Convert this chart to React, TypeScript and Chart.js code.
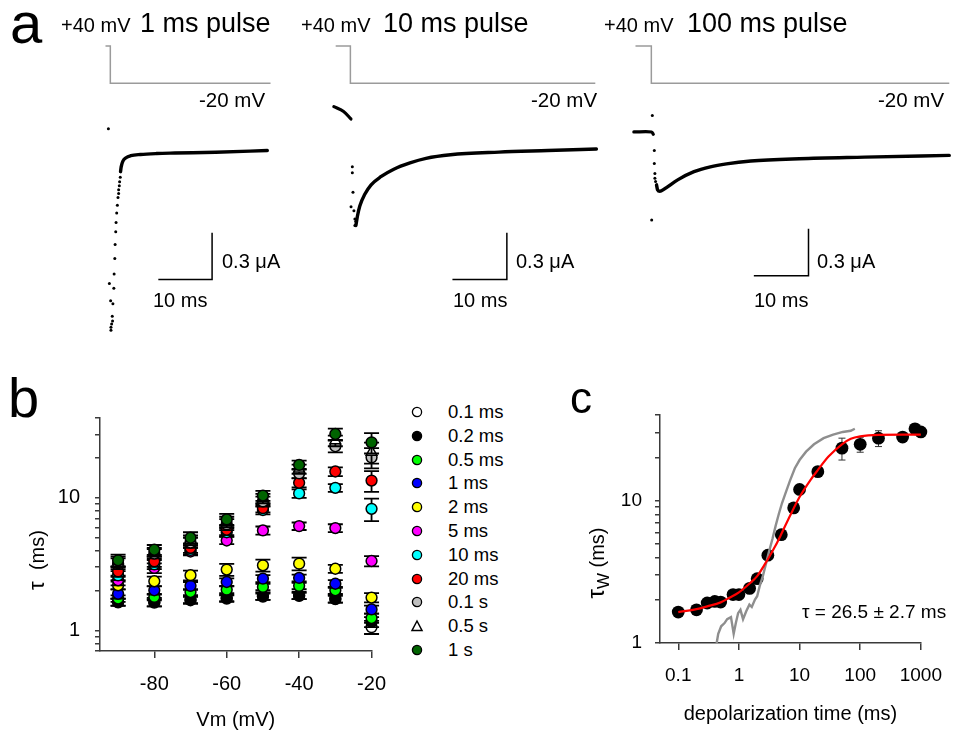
import React, { useEffect, useRef } from "react";
import { Chart, registerables } from "chart.js";

Chart.register(...registerables);

const FONT = '"Liberation Sans", Arial, Helvetica, sans-serif';

// ================= Panel a data (time ms, current µA, command mV) =================
const commandMv = [40, 40, -20, -20];
const step1Ms = [-0.9, 0, 0, 29.8];
const step2Ms = [-2.7, 0, 0, 45];
const step3Ms = [-2.9, 0, 0, 54.5];

const trace1Dots: [number, number][] = [
  [-0.36, 0.14],
  [0.12, -1.15], [0.12, -1.13], [0.24, -1.11], [0.42, -1.09], [0.36, -1.06],
  [0.06, -0.96], [0.48, -0.98], [-0.18, -0.85], [0.65, -0.88],
  [0.71, -0.79], [0.83, -0.69], [0.89, -0.6], [1.01, -0.52], [1.07, -0.46],
  [1.19, -0.4], [1.31, -0.35], [1.43, -0.3], [1.55, -0.275], [1.55, -0.25],
  [1.67, -0.225], [1.73, -0.2], [1.85, -0.17],
];
const trace1Curve: [number, number][] = [
  [1.9, -0.135], [2.02, -0.104], [2.32, -0.069], [2.92, -0.046], [3.81, -0.033],
  [5.6, -0.025], [8.6, -0.019], [12, -0.016], [19.6, -0.011], [29.2, 0],
];
const trace1Pre: [number, number][] = [];

const trace2Pre: [number, number][] = [[-3.04, 0.281], [-1.25, 0.25], [0.1, 0.202]];
const trace2Dots: [number, number][] = [
  [0.36, -0.104], [0.36, -0.142], [0.48, -0.267], [0.12, -0.36], [0.65, -0.385],
  [0.83, -0.4375], [1.0, -0.452], [0.83, -0.479],
];
const trace2Curve: [number, number][] = [
  [1.01, -0.479], [1.31, -0.417], [1.73, -0.354], [2.62, -0.281], [3.81, -0.219],
  [5.6, -0.167], [7.98, -0.119], [10.95, -0.079], [13.9, -0.05], [18.4, -0.027],
  [27.3, -0.01], [36.3, 0], [45.2, 0.01],
];

const trace3Pre: [number, number][] = [[-3.2, 0.119], [0.06, 0.119], [0.36, 0.104]];
const trace3Dots: [number, number][] = [
  [0.18, 0.225], [0.54, 0], [0.54, -0.083], [0.65, -0.146], [0.65, -0.177],
  [0.77, -0.198], [0.06, -0.444],
];
const trace3Curve: [number, number][] = [
  [0.95, -0.219], [1.13, -0.25], [1.55, -0.26], [2.44, -0.244], [4.82, -0.1875],
  [7.8, -0.135], [10.8, -0.104], [13.75, -0.085], [18.2, -0.067], [27.1, -0.052],
  [39, -0.042], [54.5, -0.031],
];

const scaleBarMs = 10;
const scaleBarUA = 0.3;
const scaleBar1: [number, number] = [8.93, -0.825];
const scaleBar2: [number, number] = [18.75, -0.825];
const scaleBar3: [number, number] = [18.75, -0.8];
const pulseTitles = ["1 ms pulse", "10 ms pulse", "100 ms pulse"];

// ================= Panel b data =================
const vmSteps = [-90, -80, -70, -60, -50, -40, -30, -20];
const vmTicks = [-80, -60, -40, -20];
const tauTicks = [0.7, 0.8, 0.9, 1, 2, 3, 4, 5, 6, 7, 8, 9, 10, 20, 30, 40];
const pulseLabels = ["0.1 ms", "0.2 ms", "0.5 ms", "1 ms", "2 ms", "5 ms", "10 ms", "20 ms", "0.1 s", "0.5 s", "1 s"];

const tau_0_1ms = [1.63, 1.62, 1.69, 1.74, 1.8, 1.82, 1.72, 1.06];
const tau_0_2ms = [1.64, 1.64, 1.71, 1.76, 1.82, 1.84, 1.74, 1.16];
const tau_0_5ms = [1.74, 1.79, 1.95, 2.03, 2.13, 2.17, 2.01, 1.24];
const tau_1ms = [1.89, 2.01, 2.17, 2.32, 2.46, 2.49, 2.25, 1.44];
const tau_2ms = [2.19, 2.35, 2.61, 2.88, 3.1, 3.19, 2.92, 1.77];
const tau_5ms = [2.39, 2.96, 3.94, 4.77, 5.68, 6.12, 5.92, 3.34];
const tau_10ms = [2.6, 3.15, 4.05, 5.5, 8.1, 10.8, 11.9, 8.27];
const tau_20ms = [2.79, 3.32, 4.19, 5.74, 8.37, 13.0, 15.8, 13.5];
const tau_0_1s = [3.2, 3.8, 4.6, 6.3, 9.4, 15.3, 24.5, 20.2];
const tau_0_5s = [3.3, 3.9, 4.8, 6.6, 9.9, 16.5, 27.0, 22.1];
const tau_1s = [3.38, 4.06, 5.0, 6.87, 10.4, 17.7, 30.3, 26.2];

const err_0_1ms = [0.1, 0.1, 0.1, 0.1, 0.1, 0.1, 0.1, 0.12];
const err_0_2ms = [0.1, 0.12, 0.1, 0.1, 0.12, 0.12, 0.12, 0.1];
const err_0_5ms = [0.1, 0.1, 0.1, 0.12, 0.12, 0.12, 0.12, 0.1];
const err_1ms = [0.15, 0.15, 0.15, 0.15, 0.15, 0.15, 0.15, 0.1];
const err_2ms = [0.15, 0.2, 0.22, 0.3, 0.32, 0.35, 0.2, 0.14];
const err_5ms = [0.2, 0.25, 0.25, 0.3, 0.4, 0.4, 0.4, 0.3];
const err_10ms = [0.2, 0.25, 0.3, 0.4, 0.6, 0.8, 0.8, 1.6];
const err_20ms = [0.25, 0.3, 0.35, 0.5, 0.6, 1.0, 1.2, 2.4];
const err_0_1s = [0.3, 0.3, 0.4, 0.6, 0.8, 1.2, 2.5, 3.5];
const err_0_5s = [0.3, 0.3, 0.4, 0.6, 0.8, 1.3, 2.5, 4.0];
const err_1s = [0.35, 0.35, 0.5, 0.7, 0.9, 1.4, 3.0, 4.6];

const tauSeries = [tau_0_1ms, tau_0_2ms, tau_0_5ms, tau_1ms, tau_2ms, tau_5ms, tau_10ms, tau_20ms, tau_0_1s, tau_0_5s, tau_1s];
const errSeries = [err_0_1ms, err_0_2ms, err_0_5ms, err_1ms, err_2ms, err_5ms, err_10ms, err_20ms, err_0_1s, err_0_5s, err_1s];
const pulseColors = ["#ffffff", "#000000", "#00ff00", "#0000ff", "#ffff00", "#ff00ff", "#00ffff", "#ff0000", "#c0c0c0", "#ffffff", "#006400"];
const pulseShapes = ["circle", "circle", "circle", "circle", "circle", "circle", "circle", "circle", "circle", "triangle", "circle"];

// ================= Panel c data =================
const depolTime = [0.1, 0.2, 0.3, 0.4, 0.5, 0.8, 1, 1.5, 2, 3, 5, 8, 10, 20, 50, 100, 200, 500, 800, 1000];
const tauW = [1.65, 1.71, 1.91, 1.96, 1.94, 2.19, 2.19, 2.42, 2.83, 4.14, 5.77, 8.9, 12.0, 16.0, 23.4, 24.9, 27.5, 28.0, 32.0, 30.4];
const tauWErr = [0.05, 0.05, 0.05, 0.05, 0.05, 0.08, 0.08, 0.1, 0.15, 0.2, 0.3, 0.5, 0.6, 0.8, 4.1, 3.0, 3.5, 1.9, 2.5, 1.0];
const fitTime = [0.1, 0.2, 0.3, 0.5, 0.7, 1, 1.5, 2, 3, 4, 5, 7, 10, 15, 20, 30, 50, 70, 100, 200, 500, 1000];
const fitTau = [1.65, 1.73, 1.81, 1.93, 2.08, 2.27, 2.62, 2.95, 3.88, 4.82, 5.83, 7.87, 10.6, 13.9, 16.4, 20.4, 24.9, 27.2, 28.3, 29.0, 29.1, 29.1];
const grayTime = [0.43, 0.456, 0.51, 0.58, 0.64, 0.74, 0.82, 0.89, 0.97, 1.06, 1.17, 1.32, 1.49, 1.63, 1.84, 2.0, 2.2, 2.48, 2.81, 3.16, 3.57, 4.04, 4.56, 5.14, 5.95, 6.98, 8.36, 10, 12.8, 17.3, 24.9, 35.8, 51.5, 69.8, 81.5];
const grayTau = [1.0, 1.16, 1.31, 1.38, 1.47, 1.52, 1.16, 1.38, 1.62, 1.71, 1.47, 1.67, 1.86, 1.79, 2.02, 2.13, 2.51, 2.95, 3.63, 4.44, 5.38, 6.68, 8.09, 9.63, 11.5, 13.9, 16.9, 19.3, 22.1, 24.9, 27.5, 29.1, 30.4, 31.0, 32.0];
const cXTicks = [0.1, 1, 10, 100, 1000];
const cYTicks = [1, 2, 3, 4, 5, 6, 7, 8, 9, 10, 20, 30, 40];
const fitText = "τ = 26.5 ± 2.7 ms";

// ================= helpers =================
const toXY = (pts: [number, number][]) => pts.map(([x, y]) => ({ x, y }));
const zipXY = (xs: number[], ys: number[]) => xs.map((x, i) => ({ x, y: ys[i] }));

const AXIS = "#3a3a3a";

const errorBarPlugin = {
  id: "errorBars",
  beforeDatasetDraw(chart: any, args: any) {
    const ds: any = chart.data.datasets[args.index];
    if (!ds.errors) return;
    const meta = args.meta;
    const xs = chart.scales[meta.xAxisID];
    const ys = chart.scales[meta.yAxisID];
    const ctx = chart.ctx;
    ctx.save();
    ctx.strokeStyle = ds.errorColor || "#000";
    ctx.lineWidth = ds.errorWidth || 1;
    const cap = ds.capHalf || 4;
    ds.data.forEach((p: any, i: number) => {
      const e = ds.errors[i];
      if (!e) return;
      const x = xs.getPixelForValue(p.x);
      const yTop = ys.getPixelForValue(p.y + e);
      const yBot = ys.getPixelForValue(Math.max(p.y - e, 1e-3));
      ctx.beginPath();
      ctx.moveTo(x, yTop);
      ctx.lineTo(x, yBot);
      ctx.moveTo(x - cap, yTop);
      ctx.lineTo(x + cap, yTop);
      ctx.moveTo(x - cap, yBot);
      ctx.lineTo(x + cap, yBot);
      ctx.stroke();
    });
    ctx.restore();
  },
};

function ChartBox({ left, top, width, height, make }: { left: number; top: number; width: number; height: number; make: () => any }) {
  const ref = useRef<HTMLCanvasElement>(null);
  useEffect(() => {
    const chart = new Chart(ref.current as HTMLCanvasElement, make());
    return () => chart.destroy();
  }, []);
  return (
    <canvas
      ref={ref}
      width={width}
      height={height}
      style={{ position: "absolute", left, top, width, height }}
    />
  );
}

// ---- layout constants for panel a ----
const PX_PER_MS = 5.6;
const PX_PER_UA = 160;
const ZERO_UA_PX = 150;
const PX_PER_MV = 38 / 60;
const PLUS40_PX = 43;
const TRACE_H = 350;

const tracePanels = [
  { left: 90, width: 200, zeroPx: 107, step: step1Ms, pre: trace1Pre, curve: trace1Curve, dots: trace1Dots, bar: scaleBar1 },
  { left: 325, width: 285, zeroPx: 347, step: step2Ms, pre: trace2Pre, curve: trace2Curve, dots: trace2Dots, bar: scaleBar2 },
  { left: 620, width: 336, zeroPx: 648, step: step3Ms, pre: trace3Pre, curve: trace3Curve, dots: trace3Dots, bar: scaleBar3 },
];

function traceConfig(p: any) {
  const xMin = (p.left - p.zeroPx) / PX_PER_MS;
  const xMax = (p.left + p.width - p.zeroPx) / PX_PER_MS;
  const yMax = ZERO_UA_PX / PX_PER_UA;
  const yMin = (ZERO_UA_PX - TRACE_H) / PX_PER_UA;
  const vMax = 40 + PLUS40_PX / PX_PER_MV;
  const vMin = 40 - (TRACE_H - PLUS40_PX) / PX_PER_MV;
  const [bt, bi] = p.bar;
  const barPts = [
    { x: bt, y: bi },
    { x: bt + scaleBarMs, y: bi },
    { x: bt + scaleBarMs, y: bi + scaleBarUA },
  ];
  return {
    type: "scatter",
    data: {
      datasets: [
        { type: "line", data: zipXY(p.step, commandMv), yAxisID: "v", borderColor: "#9b9b9b", borderWidth: 1.5, pointRadius: 0, tension: 0 },
        { type: "line", data: toXY(p.pre), yAxisID: "y", borderColor: "#000", borderWidth: 3.2, borderCapStyle: "round", pointRadius: 0, tension: 0.3 },
        { type: "line", data: toXY(p.curve), yAxisID: "y", borderColor: "#000", borderWidth: 3.4, borderCapStyle: "round", pointRadius: 0, cubicInterpolationMode: "monotone" },
        { type: "scatter", data: toXY(p.dots), yAxisID: "y", pointRadius: 1.5, backgroundColor: "#000", borderWidth: 0 },
        { type: "line", data: barPts, yAxisID: "y", borderColor: "#000", borderWidth: 1.5, pointRadius: 0, tension: 0 },
      ],
    },
    options: {
      animation: false,
      responsive: false,
      devicePixelRatio: 1,
      events: [],
      layout: { padding: 0 },
      plugins: { legend: { display: false }, tooltip: { enabled: false } },
      scales: {
        x: { type: "linear", display: false, min: xMin, max: xMax },
        y: { type: "linear", display: false, min: yMin, max: yMax },
        v: { type: "linear", display: false, min: vMin, max: vMax },
      },
    },
  };
}

const axisStyle = (tickLen: number) => ({
  grid: { display: true, drawOnChartArea: false, drawTicks: true, tickLength: tickLen, color: AXIS, lineWidth: 1.5 },
  border: { display: true, color: AXIS, width: 1.5 },
});

function panelBConfig() {
  const datasets = pulseLabels.map((label, i) => ({
    type: "scatter",
    label,
    data: zipXY(vmSteps, tauSeries[i]),
    errors: errSeries[i],
    capHalf: 7.5,
    errorWidth: 1.8,
    pointStyle: pulseShapes[i],
    pointRadius: pulseShapes[i] === "triangle" ? 6.2 : 5.4,
    backgroundColor: pulseColors[i],
    borderColor: "#000",
    borderWidth: 1.5,
    order: -i,
    clip: false,
  }));
  return {
    type: "scatter",
    data: { datasets },
    plugins: [errorBarPlugin],
    options: {
      animation: false,
      responsive: false,
      devicePixelRatio: 1,
      events: [],
      layout: { padding: { left: 0, top: 58, right: 27.3, bottom: 0 } },
      plugins: { legend: { display: false }, tooltip: { enabled: false } },
      scales: {
        x: {
          type: "linear",
          min: -95,
          max: -20,
          bounds: "data",
          afterBuildTicks: (s: any) => { s.ticks = vmTicks.map((v) => ({ value: v })); },
          afterFit: (s: any) => { s.height = 89; },
          ticks: { autoSkip: false, maxRotation: 0, padding: 14, color: "#000", font: { family: FONT, size: 20 }, callback: (v: any) => String(v) },
          title: { display: true, text: "Vm (mV)", color: "#000", font: { family: FONT, size: 20 }, padding: { top: 0, bottom: 8 } },
          ...axisStyle(7),
        },
        y: {
          type: "logarithmic",
          min: 0.7,
          max: 40,
          bounds: "data",
          afterBuildTicks: (s: any) => { s.ticks = tauTicks.map((v) => ({ value: v })); },
          afterFit: (s: any) => { s.width = 100; },
          ticks: { autoSkip: false, padding: 15, color: "#000", font: { family: FONT, size: 20 }, callback: (v: any) => (v === 1 || v === 10 ? String(v) : "") },
          ...axisStyle(5),
        },
      },
    },
  };
}

function panelCConfig() {
  return {
    type: "scatter",
    data: {
      datasets: [
        { type: "line", label: "fit", data: zipXY(fitTime, fitTau), borderColor: "#ff0000", borderWidth: 2.2, pointRadius: 0, cubicInterpolationMode: "monotone", order: 0, clip: false },
        { type: "line", label: "model", data: zipXY(grayTime, grayTau), borderColor: "#8e8e8e", borderWidth: 2.4, pointRadius: 0, tension: 0, order: 1 },
        {
          type: "scatter",
          label: "tauW",
          data: zipXY(depolTime, tauW),
          errors: tauWErr,
          capHalf: 3.5,
          errorWidth: 1,
          errorColor: "#333",
          pointRadius: 6.4,
          backgroundColor: "#000",
          borderColor: "#000",
          borderWidth: 0,
          order: 2,
          clip: false,
        },
      ],
    },
    plugins: [errorBarPlugin],
    options: {
      animation: false,
      responsive: false,
      devicePixelRatio: 1,
      events: [],
      layout: { padding: { left: 0, top: 55, right: 22.7, bottom: 0 } },
      plugins: { legend: { display: false }, tooltip: { enabled: false } },
      scales: {
        x: {
          type: "logarithmic",
          min: 0.05,
          max: 1000,
          bounds: "data",
          afterBuildTicks: (s: any) => { s.ticks = cXTicks.map((v) => ({ value: v })); },
          afterFit: (s: any) => { s.height = 97; },
          ticks: { autoSkip: false, maxRotation: 0, padding: 14, color: "#000", font: { family: FONT, size: 19 }, callback: (v: any) => String(v) },
          title: { display: true, text: "depolarization time (ms)", color: "#000", font: { family: FONT, size: 20 }, padding: { top: 0, bottom: 14 } },
          ...axisStyle(7),
        },
        y: {
          type: "logarithmic",
          min: 1,
          max: 40,
          bounds: "data",
          afterBuildTicks: (s: any) => { s.ticks = cYTicks.map((v) => ({ value: v })); },
          afterFit: (s: any) => { s.width = 120; },
          ticks: { autoSkip: false, padding: 13, color: "#000", font: { family: FONT, size: 19 }, callback: (v: any) => (v === 1 || v === 10 ? String(v) : "") },
          ...axisStyle(5),
        },
      },
    },
  };
}

// text with baseline placement
function Txt({ x, base, size, children, style }: { x: number; base: number; size: number; children: any; style?: any }) {
  return (
    <div
      style={{
        position: "absolute",
        left: x,
        top: base - 0.8465 * size,
        fontSize: size,
        lineHeight: 1,
        whiteSpace: "pre",
        fontFamily: FONT,
        color: "#000",
        ...style,
      }}
    >
      {children}
    </div>
  );
}

function RotTxt({ cx, cy, children }: { cx: number; cy: number; children: any }) {
  return (
    <div
      style={{
        position: "absolute",
        left: cx,
        top: cy,
        transform: "translate(-50%, -50%) rotate(-90deg)",
        whiteSpace: "pre",
        fontFamily: FONT,
        lineHeight: 1,
        color: "#000",
      }}
    >
      {children}
    </div>
  );
}

const LEGEND_X = 417;
const LEGEND_Y0 = 412;
const LEGEND_DY = 23.8;

function LegendMarker({ y, color, shape }: { y: number; color: string; shape: string }) {
  return (
    <svg width={14} height={14} style={{ position: "absolute", left: LEGEND_X - 7, top: y - 7 }}>
      {shape === "triangle" ? (
        <polygon points="7,2 12,11.5 2,11.5" fill="#fff" stroke="#000" strokeWidth={1.5} />
      ) : (
        <circle cx={7} cy={7} r={4.6} fill={color} stroke="#000" strokeWidth={1.3} />
      )}
    </svg>
  );
}

export default function App() {
  const plus40X = [61, 301, 604];
  const pulseX = [140, 383, 687];
  const minus20X = [199, 531, 878];
  const uaX = [222, 516, 817];
  const msX = [153, 453, 754];
  return (
    <div style={{ position: "absolute", left: 0, top: 0, width: 956, height: 740, background: "#fff", overflow: "hidden", fontFamily: FONT }}>
      {tracePanels.map((p, i) => (
        <ChartBox key={"t" + i} left={p.left} top={0} width={p.width} height={TRACE_H} make={() => traceConfig(p)} />
      ))}
      <ChartBox left={0} top={360} width={400} height={380} make={panelBConfig} />
      <ChartBox left={540} top={360} width={416} height={380} make={panelCConfig} />

      {/* panel a texts */}
      <Txt x={10} base={43} size={58}>a</Txt>
      {pulseTitles.map((t, i) => (
        <React.Fragment key={"pt" + i}>
          <Txt x={plus40X[i]} base={32} size={20}>+40 mV</Txt>
          <Txt x={pulseX[i]} base={33} size={27}>{t}</Txt>
          <Txt x={minus20X[i]} base={107} size={20.5}>-20 mV</Txt>
          <Txt x={uaX[i]} base={268} size={20}>{"0.3 μA"}</Txt>
          <Txt x={msX[i]} base={307} size={20}>10 ms</Txt>
        </React.Fragment>
      ))}

      {/* panel b texts */}
      <Txt x={8} base={417} size={56}>b</Txt>
      <RotTxt cx={37} cy={560}>
        <span style={{ fontSize: 22 }}>τ</span>
        <span style={{ fontSize: 20 }}>{"  (ms)"}</span>
      </RotTxt>
      {pulseLabels.map((l, i) => (
        <React.Fragment key={"lg" + i}>
          <LegendMarker y={LEGEND_Y0 + i * LEGEND_DY} color={pulseColors[i]} shape={pulseShapes[i]} />
          <Txt x={448} base={LEGEND_Y0 + i * LEGEND_DY + 6.6} size={18.5}>{l}</Txt>
        </React.Fragment>
      ))}

      {/* panel c texts */}
      <Txt x={570} base={413} size={44}>c</Txt>
      <RotTxt cx={596} cy={563}>
        <span style={{ fontSize: 24 }}>τ</span>
        <span style={{ fontSize: 17, position: "relative", top: 5 }}>W</span>
        <span style={{ fontSize: 20 }}>{" (ms)"}</span>
      </RotTxt>
      <Txt x={802} base={618} size={19}>{fitText}</Txt>
    </div>
  );
}
